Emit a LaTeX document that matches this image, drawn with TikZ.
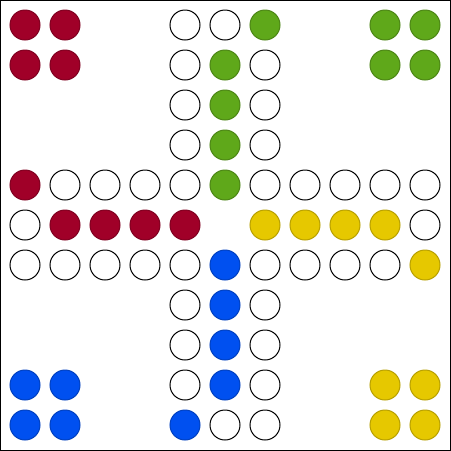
\documentclass[tikz,border=0pt]{standalone}
\definecolor{ludored}{HTML}{A00028}
\definecolor{ludoyellow}{HTML}{E6C800}
\definecolor{ludogreen}{HTML}{5FA81A}
\definecolor{ludoblue}{HTML}{0050F0}
\begin{document}
\begin{tikzpicture}[x=1pt,y=-1pt,
  field/.style={circle,minimum size=30pt,inner sep=0pt,line width=1pt,draw=black,fill=white},
  fr/.style={field,fill=ludored,draw=ludored!80!black},
  fy/.style={field,fill=ludoyellow,draw=ludoyellow!80!black},
  fg/.style={field,fill=ludogreen,draw=ludogreen!80!black},
  fb/.style={field,fill=ludoblue,draw=ludoblue!80!black}]
\useasboundingbox (0,0) rectangle (451,451);
\draw[line width=1pt,fill=white] (0.5,0.5) rectangle (450.5,450.5);
\foreach \r/\row in {0/{R,R,-,-,W,W,G,-,-,G,G},1/{R,R,-,-,W,G,W,-,-,G,G},2/{-,-,-,-,W,G,W,-,-,-,-},3/{-,-,-,-,W,G,W,-,-,-,-},4/{R,W,W,W,W,G,W,W,W,W,W},5/{W,R,R,R,R,-,Y,Y,Y,Y,W},6/{W,W,W,W,W,B,W,W,W,W,Y},7/{-,-,-,-,W,B,W,-,-,-,-},8/{-,-,-,-,W,B,W,-,-,-,-},9/{B,B,-,-,W,B,W,-,-,Y,Y},10/{B,B,-,-,B,W,W,-,-,Y,Y}}{
  \foreach \c [count=\i from 0] in \row {
    \if\c W \node[field] (n\r-\i) at ({25+40*\i},{25+40*\r}) {};\fi
    \if\c R \node[fr] (n\r-\i) at ({25+40*\i},{25+40*\r}) {};\fi
    \if\c Y \node[fy] (n\r-\i) at ({25+40*\i},{25+40*\r}) {};\fi
    \if\c G \node[fg] (n\r-\i) at ({25+40*\i},{25+40*\r}) {};\fi
    \if\c B \node[fb] (n\r-\i) at ({25+40*\i},{25+40*\r}) {};\fi
  }
}
\end{tikzpicture}
\end{document}
